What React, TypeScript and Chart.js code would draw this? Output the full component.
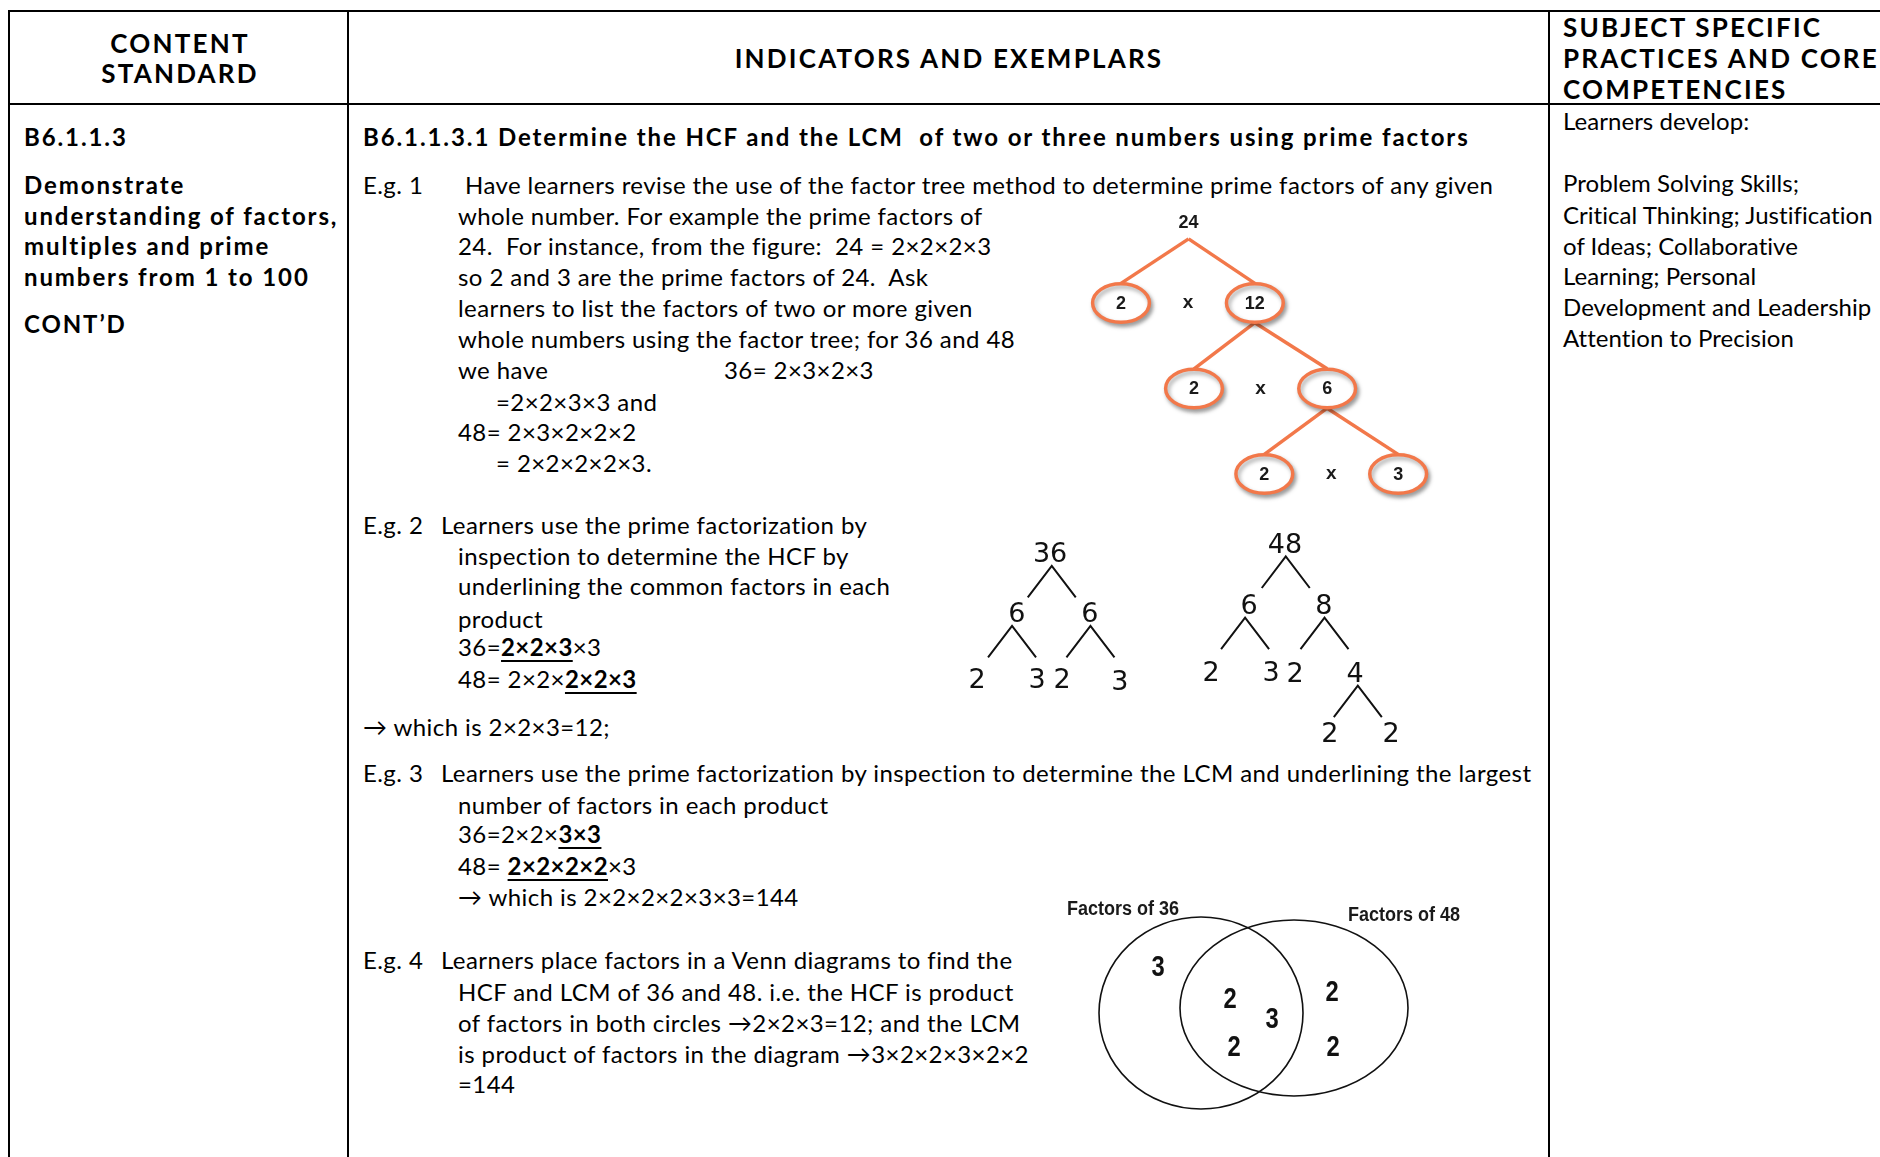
import React, { useEffect, useRef } from "react";
import { Chart, registerables } from "chart.js";

Chart.register(...registerables);

// ---------- Factor tree of 24 (slot = horizontal position, level = depth) ----------
const tree24Labels = ["24", "2", "12", "2", "6", "2", "3"];
const tree24Slot = [0.06, -0.94, 1.04, 0.14, 2.11, 1.18, 3.16];
const tree24Level = [0.05, 1, 1, 2, 2, 3, 3];
const tree24Parent = [-1, 0, 0, 2, 2, 4, 4];

// ---------- Factor trees of 36 and 48 (col = horizontal unit, row = depth) ----------
const tree36Labels = ["36", "6", "6", "2", "3", "2", "3"];
const tree36Col = [4.17, 2.79, 5.83, 1.13, 3.63, 4.67, 7.08];
const tree36Row = [0.15, 1.1, 1.1, 2.15, 2.15, 2.15, 2.17];
const tree36Parent = [-1, 0, 0, 1, 1, 2, 2];

const tree48Labels = ["48", "6", "8", "2", "3", "2", "4", "2", "2"];
const tree48Col = [13.96, 12.46, 15.58, 10.88, 13.38, 14.38, 16.88, 15.83, 18.38];
const tree48Row = [0, 0.97, 0.97, 2.03, 2.03, 2.05, 2.05, 3.0, 3.0];
const tree48Parent = [-1, 0, 0, 1, 1, 2, 2, 6, 6];

// ---------- Venn diagram ----------
const vennSetNames = ["Factors of 36", "Factors of 48"];
const vennCx = [151, 244];
const vennCy = [123, 118];
const vennRx = [102, 114];
const vennRy = [96, 88];
const vennNameX = [73, 354];
const vennNameY = [19, 25];
const vennFactors = ["3", "2", "3", "2", "2", "2"];
const vennFactorX = [108, 180, 222, 184, 282, 283];
const vennFactorY = [78, 110, 130, 158, 103, 158];

const ORANGE = "#F2784A";

const ellipsePlugin = {
  id: "ellipses",
  afterDatasetsDraw(chart: any) {
    const ctx = chart.ctx;
    const xs = chart.scales.x;
    const ys = chart.scales.y;
    chart.data.datasets.forEach((ds: any) => {
      if (!ds.ellipse) return;
      ds.data.forEach((p: any) => {
        const cx = xs.getPixelForValue(p.x);
        const cy = ys.getPixelForValue(p.y);
        const rx = Math.abs(xs.getPixelForValue(p.x + p.rx) - cx);
        const ry = Math.abs(ys.getPixelForValue(p.y + p.ry) - cy);
        ctx.save();
        if (ds.shadow) {
          ctx.shadowColor = "rgba(0,0,0,0.35)";
          ctx.shadowBlur = 4;
          ctx.shadowOffsetX = 2;
          ctx.shadowOffsetY = 3;
        }
        ctx.beginPath();
        ctx.ellipse(cx, cy, rx, ry, 0, 0, Math.PI * 2);
        if (ds.ellipseFill) {
          ctx.fillStyle = ds.ellipseFill;
          ctx.fill();
        }
        ctx.lineWidth = ds.ellipseWidth;
        ctx.strokeStyle = ds.ellipseColor;
        ctx.stroke();
        ctx.restore();
      });
    });
  },
};

const labelPlugin = {
  id: "nodeLabels",
  afterDatasetsDraw(chart: any) {
    const ctx = chart.ctx;
    chart.data.datasets.forEach((ds: any, i: number) => {
      if (!ds.labels) return;
      const meta = chart.getDatasetMeta(i);
      meta.data.forEach((el: any, j: number) => {
        ctx.save();
        ctx.font = ds.labelFont;
        ctx.fillStyle = ds.labelColor || "#000";
        ctx.textAlign = "center";
        ctx.textBaseline = "middle";
        ctx.translate(el.x, el.y + (ds.labelDy || 0));
        ctx.scale(ds.labelScaleX || 1, 1);
        ctx.fillText(ds.labels[j], 0, 0);
        ctx.restore();
      });
    });
  },
};

function baseOptions(xmin: number, xmax: number, ymin: number, ymax: number) {
  return {
    animation: false,
    responsive: false,
    events: [],
    layout: { padding: 0 },
    plugins: { legend: { display: false }, tooltip: { enabled: false } },
    scales: {
      x: { type: "linear", min: xmin, max: xmax, display: false },
      y: { type: "linear", min: ymin, max: ymax, reverse: true, display: false },
    },
  };
}

function buildTree24() {
  const datasets: any[] = [];
  tree24Parent.forEach((p, i) => {
    if (p < 0) return;
    const startOff = p === 0 ? 0.2 : 0.23;
    datasets.push({
      data: [
        { x: tree24Slot[p], y: tree24Level[p] + startOff },
        { x: tree24Slot[i], y: tree24Level[i] - 0.23 },
      ],
      showLine: true,
      borderColor: ORANGE,
      borderWidth: 3.5,
      pointRadius: 0,
    });
  });
  const circled = tree24Labels.map((_, i) => i).filter((i) => tree24Parent[i] >= 0);
  datasets.push({
    data: circled.map((i) => ({ x: tree24Slot[i], y: tree24Level[i], rx: 0.42, ry: 0.225 })),
    pointRadius: 0,
    ellipse: true,
    ellipseFill: "#ffffff",
    ellipseColor: ORANGE,
    ellipseWidth: 3.5,
    shadow: true,
  });
  datasets.push({
    data: tree24Labels.map((_, i) => ({ x: tree24Slot[i], y: tree24Level[i] })),
    pointRadius: 0,
    labels: tree24Labels,
    labelFont: "bold 18px 'Liberation Sans', Arial, sans-serif",
    labelColor: "#1a1a1a",
    labelDy: 1,
  });
  // multiplication signs between sibling pairs
  const pairs: number[][] = [];
  tree24Parent.forEach((p, i) => {
    if (p < 0) return;
    const sib = tree24Parent.findIndex((q, j) => q === p && j !== i);
    if (sib > i) pairs.push([i, sib]);
  });
  datasets.push({
    data: pairs.map(([a, b]) => ({
      x: (tree24Slot[a] + tree24Slot[b]) / 2,
      y: (tree24Level[a] + tree24Level[b]) / 2,
    })),
    pointRadius: 0,
    labels: pairs.map(() => "x"),
    labelFont: "bold 19px 'Liberation Sans', Arial, sans-serif",
    labelColor: "#1a1a1a",
  });
  return {
    type: "scatter",
    data: { datasets },
    options: baseOptions(-1.65, -1.65 + 372 / 67.6, -0.158, -0.158 + 300 / 85.5),
    plugins: [ellipsePlugin, labelPlugin],
  };
}

function lambdaEdges(col: number[], row: number[], parent: number[]) {
  const out: any[] = [];
  const parents = Array.from(new Set(parent.filter((p) => p >= 0)));
  parents.forEach((p) => {
    const kids = parent.map((q, i) => (q === p ? i : -1)).filter((i) => i >= 0);
    const mid = kids.reduce((s, k) => s + col[k], 0) / kids.length;
    const ax = (col[p] + mid) / 2;
    const ay = row[p] + 0.23;
    const ey = row[p] + 0.73;
    out.push({
      data: [
        { x: ax - 1, y: ey },
        { x: ax, y: ay },
        { x: ax + 1, y: ey },
      ],
      showLine: true,
      borderColor: "#111",
      borderWidth: 2,
      pointRadius: 0,
    });
  });
  return out;
}

function buildTrees3648() {
  const datasets: any[] = [
    ...lambdaEdges(tree36Col, tree36Row, tree36Parent),
    ...lambdaEdges(tree48Col, tree48Row, tree48Parent),
    {
      data: tree36Labels.map((_, i) => ({ x: tree36Col[i], y: tree36Row[i] })),
      pointRadius: 0,
      labels: tree36Labels,
      labelFont: "27px 'DejaVu Sans', sans-serif",
      labelColor: "#111",
      labelDy: 4,
    },
    {
      data: tree48Labels.map((_, i) => ({ x: tree48Col[i], y: tree48Row[i] })),
      pointRadius: 0,
      labels: tree48Labels,
      labelFont: "27px 'DejaVu Sans', sans-serif",
      labelColor: "#111",
      labelDy: 4,
    },
  ];
  return {
    type: "scatter",
    data: { datasets },
    options: baseOptions(0, 470 / 24, -0.238, -0.238 + 235 / 63),
    plugins: [ellipsePlugin, labelPlugin],
  };
}

function buildVenn() {
  const datasets: any[] = [
    {
      data: vennCx.map((cx, i) => ({ x: cx, y: vennCy[i], rx: vennRx[i], ry: vennRy[i] })),
      pointRadius: 0,
      ellipse: true,
      ellipseColor: "#111",
      ellipseWidth: 1.6,
    },
    {
      data: vennNameX.map((x, i) => ({ x, y: vennNameY[i] })),
      pointRadius: 0,
      labels: vennSetNames,
      labelFont: "bold 20px 'Liberation Sans', Arial, sans-serif",
      labelColor: "#1a1a1a",
      labelScaleX: 0.9,
    },
    {
      data: vennFactorX.map((x, i) => ({ x, y: vennFactorY[i] })),
      pointRadius: 0,
      labels: vennFactors,
      labelFont: "bold 29px 'Liberation Sans', Arial, sans-serif",
      labelColor: "#111",
      labelScaleX: 0.82,
    },
  ];
  return {
    type: "scatter",
    data: { datasets },
    options: baseOptions(0, 430, 0, 240),
    plugins: [ellipsePlugin, labelPlugin],
  };
}

function Diagram({ x, y, w, h, build }: any) {
  const ref = useRef<HTMLCanvasElement>(null);
  useEffect(() => {
    const chart = new Chart(ref.current as any, build());
    return () => chart.destroy();
  }, []);
  return (
    <canvas
      ref={ref}
      width={w}
      height={h}
      style={{ position: "absolute", left: x, top: y, width: w, height: h }}
    />
  );
}

const FONT = "Lato, 'Open Sans', sans-serif";

function T({ x, y, bold, size, ls, center, children }: any) {
  return (
    <div
      style={{
        position: "absolute",
        left: x,
        top: y - 16,
        height: 32,
        lineHeight: "32px",
        fontFamily: FONT,
        fontSize: size || 24,
        fontWeight: bold ? 700 : 400,
        letterSpacing: ls !== undefined ? ls : 0.42,
        whiteSpace: "pre",
        color: "#000",
        transform: center ? "translateX(-50%)" : undefined,
      }}
    >
      {children}
    </div>
  );
}

function U({ children }: any) {
  return (
    <span
      style={{
        fontWeight: 700,
        textDecoration: "underline",
        textDecorationThickness: "2px",
        textUnderlineOffset: "4px",
      }}
    >
      {children}
    </span>
  );
}

function Line({ x, y, w, h }: any) {
  return <div style={{ position: "absolute", left: x, top: y, width: w, height: h, background: "#000" }} />;
}

const HS = 26; // header size
const HB = 2.2; // bold header letter spacing
const BB = 1.9; // body bold letter spacing
const C3 = 0.05; // column 3 letter spacing

export default function App() {
  return (
    <div
      style={{
        position: "fixed",
        left: 0,
        top: 0,
        width: 1880,
        height: 1157,
        overflow: "hidden",
        background: "#fff",
      }}
    >
      {/* table rules */}
      <Line x={8} y={10} w={1872} h={2} />
      <Line x={8} y={103} w={1872} h={2} />
      <Line x={8} y={10} w={2} h={1147} />
      <Line x={347} y={10} w={2} h={1147} />
      <Line x={1548} y={10} w={2} h={1147} />

      {/* headers */}
      <T x={180} y={43} bold size={HS} ls={HB} center>CONTENT</T>
      <T x={180} y={73} bold size={HS} ls={HB} center>STANDARD</T>
      <T x={949} y={58} bold size={HS} ls={HB} center>INDICATORS AND EXEMPLARS</T>
      <T x={1563} y={27} bold size={HS} ls={HB}>SUBJECT SPECIFIC</T>
      <T x={1563} y={58} bold size={HS} ls={HB}>PRACTICES AND CORE</T>
      <T x={1563} y={89} bold size={HS} ls={HB}>COMPETENCIES</T>

      {/* column 1 */}
      <T x={24} y={137} bold ls={BB}>B6.1.1.3</T>
      <T x={24} y={185} bold ls={BB}>Demonstrate</T>
      <T x={24} y={216} bold ls={BB}>understanding of factors,</T>
      <T x={24} y={246} bold ls={BB}>multiples and prime</T>
      <T x={24} y={277} bold ls={BB}>numbers from 1 to 100</T>
      <T x={24} y={324} bold ls={BB}>CONT’D</T>

      {/* column 2 */}
      <T x={363} y={137} bold ls={BB}>B6.1.1.3.1 Determine the HCF and the LCM  of two or three numbers using prime factors</T>
      <T x={363} y={185}>E.g. 1</T>
      <T x={465} y={185}>Have learners revise the use of the factor tree method to determine prime factors of any given</T>
      <T x={458} y={216}>whole number. For example the prime factors of</T>
      <T x={458} y={246}>24.  For instance, from the figure:  24 = 2×2×2×3</T>
      <T x={458} y={277}>so 2 and 3 are the prime factors of 24.  Ask</T>
      <T x={458} y={308}>learners to list the factors of two or more given</T>
      <T x={458} y={339}>whole numbers using the factor tree; for 36 and 48</T>
      <T x={458} y={370}>we have</T>
      <T x={724} y={370}>36= 2×3×2×3</T>
      <T x={496} y={402}>=2×2×3×3 and</T>
      <T x={458} y={432}>48= 2×3×2×2×2</T>
      <T x={496} y={463}>= 2×2×2×2×3.</T>

      <T x={363} y={525}>E.g. 2</T>
      <T x={441} y={525}>Learners use the prime factorization by</T>
      <T x={458} y={556}>inspection to determine the HCF by</T>
      <T x={458} y={586}>underlining the common factors in each</T>
      <T x={458} y={619}>product</T>
      <T x={458} y={647}>36=<U>2×2×3</U>×3</T>
      <T x={458} y={679}>48= 2×2×<U>2×2×3</U></T>
      <T x={363} y={727}>→ which is 2×2×3=12;</T>

      <T x={363} y={773}>E.g. 3</T>
      <T x={441} y={773}>Learners use the prime factorization by inspection to determine the LCM and underlining the largest</T>
      <T x={458} y={805}>number of factors in each product</T>
      <T x={458} y={834}>36=2×2×<U>3×3</U></T>
      <T x={458} y={866}>48= <U>2×2×2×2</U>×3</T>
      <T x={458} y={897}>→ which is 2×2×2×2×3×3=144</T>

      <T x={363} y={960}>E.g. 4</T>
      <T x={441} y={960}>Learners place factors in a Venn diagrams to find the</T>
      <T x={458} y={992}>HCF and LCM of 36 and 48. i.e. the HCF is product</T>
      <T x={458} y={1023}>of factors in both circles →2×2×3=12; and the LCM</T>
      <T x={458} y={1054}>is product of factors in the diagram →3×2×2×3×2×2</T>
      <T x={458} y={1084}>=144</T>

      {/* column 3 */}
      <T x={1563} y={121} ls={C3}>Learners develop:</T>
      <T x={1563} y={183} ls={C3}>Problem Solving Skills;</T>
      <T x={1563} y={215} ls={C3}>Critical Thinking; Justification</T>
      <T x={1563} y={246} ls={C3}>of Ideas; Collaborative</T>
      <T x={1563} y={276} ls={C3}>Learning; Personal</T>
      <T x={1563} y={307} ls={C3}>Development and Leadership</T>
      <T x={1563} y={338} ls={C3}>Attention to Precision</T>

      {/* diagrams */}
      <Diagram x={1073} y={204} w={372} h={300} build={buildTree24} />
      <Diagram x={950} y={527} w={470} h={235} build={buildTrees3648} />
      <Diagram x={1050} y={890} w={430} h={240} build={buildVenn} />
    </div>
  );
}
